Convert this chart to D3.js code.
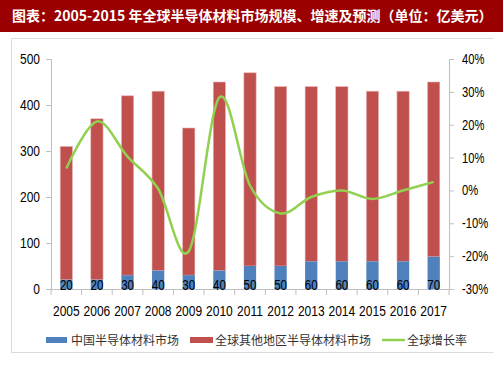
<!DOCTYPE html>
<html><head><meta charset="utf-8">
<script src="https://cdn.jsdelivr.net/npm/d3@7"></script>
<style>
html,body{margin:0;padding:0;background:#fff;}
svg{display:block;}
</style></head>
<body>
<svg id="chart" width="503" height="378"></svg>
<script>
const title = "图表：2005-2015 年全球半导体材料市场规模、增速及预测（单位：亿美元）";
const years = ["2005","2006","2007","2008","2009","2010","2011","2012","2013","2014","2015","2016","2017"];
const chinaMarket = [20,20,30,40,30,40,50,50,60,60,60,60,70];
const otherMarket = [290,350,390,390,320,410,420,390,380,380,370,370,380];
const growthRate = [6.7,21,10.3,0.5,-18.5,28.3,1.5,-7,-2,0,-2.6,0,2.6];
const leftTicks = [0,100,200,300,400,500];
const rightTicks = [-30,-20,-10,0,10,20,30,40];
const seriesNames = ["中国半导体材料市场","全球其他地区半导体材料市场","全球增长率"];

const svg = d3.select("#chart");
const numFont = "'Liberation Sans',Arial,sans-serif";
const cjkFont = "'Noto Sans CJK SC','Noto Sans',sans-serif";
// condense numeric text to mimic a narrow face
function condense(sel, k){
  sel.each(function(){
    const w = this.getComputedTextLength();
    if (w > 0) {
      this.setAttribute("textLength", (w*k).toFixed(1));
      this.setAttribute("lengthAdjust","spacingAndGlyphs");
    }
  });
}

// title bar
svg.append("rect").attr("x",0).attr("y",0).attr("width",503).attr("height",32).attr("fill","#9a0000");
const tt = svg.append("text").attr("x",12).attr("y",21).attr("fill","#fff")
  .attr("font-family",cjkFont).attr("font-weight","bold").attr("font-size",14)
  .text(title);
{
  const w = tt.node().getComputedTextLength();
  if (w > 0 && w < 478) tt.attr("textLength",478).attr("lengthAdjust","spacingAndGlyphs");
}

// frame
svg.append("path").attr("d","M11.5,352.5 V38.5 H493.5 M11.5,352.5 H493.5")
  .attr("fill","none").attr("stroke","#dcdcdc").attr("stroke-width",1);

const x0 = 51, x1 = 449, yTop = 59, yBot = 289;
const x = d3.scaleBand().domain(years).range([x0,x1]).paddingInner(0.6).paddingOuter(0.3);
const yL = d3.scaleLinear().domain([0,500]).range([yBot,yTop]);
const yR = d3.scaleLinear().domain([-30,40]).range([yBot,yTop]);

// bars
const stacked = years.map((yr,i)=>({yr, c:chinaMarket[i], o:otherMarket[i]}));
svg.append("g").selectAll("rect").data(stacked).join("rect")
  .attr("x",d=>x(d.yr)).attr("width",x.bandwidth())
  .attr("y",d=>yL(d.c+d.o)).attr("height",d=>yL(d.c)-yL(d.c+d.o))
  .attr("fill","#c0504d").attr("stroke","#e8b4b3").attr("stroke-width",0.6);
svg.append("g").selectAll("rect").data(stacked).join("rect")
  .attr("x",d=>x(d.yr)).attr("width",x.bandwidth())
  .attr("y",d=>yL(d.c)).attr("height",d=>yL(0)-yL(d.c))
  .attr("fill","#4f81bd");

// axes
const axisColor = "#bfbfbf";
const gL = svg.append("g").attr("transform",`translate(${x0},0)`)
  .call(d3.axisLeft(yL).tickValues(leftTicks).tickSize(5).tickPadding(6));
const gR = svg.append("g").attr("transform",`translate(${x1},0)`)
  .call(d3.axisRight(yR).tickValues(rightTicks).tickSize(5).tickPadding(8).tickFormat(d=>d+"%"));
const gB = svg.append("g").attr("transform",`translate(0,${yBot})`)
  .call(d3.axisBottom(x).tickSize(0).tickPadding(16));
[gL,gR,gB].forEach(g=>{
  g.select(".domain").attr("stroke",axisColor);
  g.selectAll(".tick line").attr("stroke",axisColor);
  g.selectAll("text").attr("fill","#000").attr("font-family",numFont).attr("font-size",15);
});
gR.selectAll("text").attr("font-size",14);
condense(gL.selectAll("text"),0.8);
condense(gR.selectAll("text"),0.8);
condense(gB.selectAll("text"),0.8);
// category boundary ticks on x axis
const bounds = d3.range(years.length+1).map(i=>x0+i*(x1-x0)/years.length);
svg.append("g").selectAll("line").data(bounds).join("line")
  .attr("x1",d=>d).attr("x2",d=>d).attr("y1",yBot).attr("y2",yBot+6)
  .attr("stroke",axisColor);
gB.select(".domain").attr("d",`M${x0},0.5H${x1}`);

// data labels
const dl = svg.append("g").selectAll("text").data(stacked).join("text")
  .attr("x",d=>x(d.yr)+x.bandwidth()/2).attr("y",yBot+0.5)
  .attr("text-anchor","middle").attr("font-family",numFont).attr("font-size",14)
  .attr("fill","#000").text(d=>d.c);
condense(dl,0.82);

// growth line
const line = d3.line().x((d,i)=>x(years[i])+x.bandwidth()/2).y(d=>yR(d)).curve(d3.curveCatmullRom.alpha(0));
svg.append("path").datum(growthRate).attr("d",line)
  .attr("fill","none").attr("stroke","#92d050").attr("stroke-width",2.5);

// legend
const lg = svg.append("g");
lg.append("rect").attr("x",46).attr("y",337).attr("width",21).attr("height",6).attr("fill","#4f81bd");
lg.append("rect").attr("x",190).attr("y",337).attr("width",23).attr("height",6).attr("fill","#c0504d");
lg.append("line").attr("x1",382).attr("x2",405).attr("y1",340).attr("y2",340).attr("stroke","#92d050").attr("stroke-width",2.5);
const lx = [71,215,407];
lg.selectAll("text").data(seriesNames).join("text")
  .attr("x",(d,i)=>lx[i]).attr("y",344.5).attr("font-family",cjkFont).attr("font-size",12)
  .attr("fill","#333").text(d=>d);
</script>
</body></html>
